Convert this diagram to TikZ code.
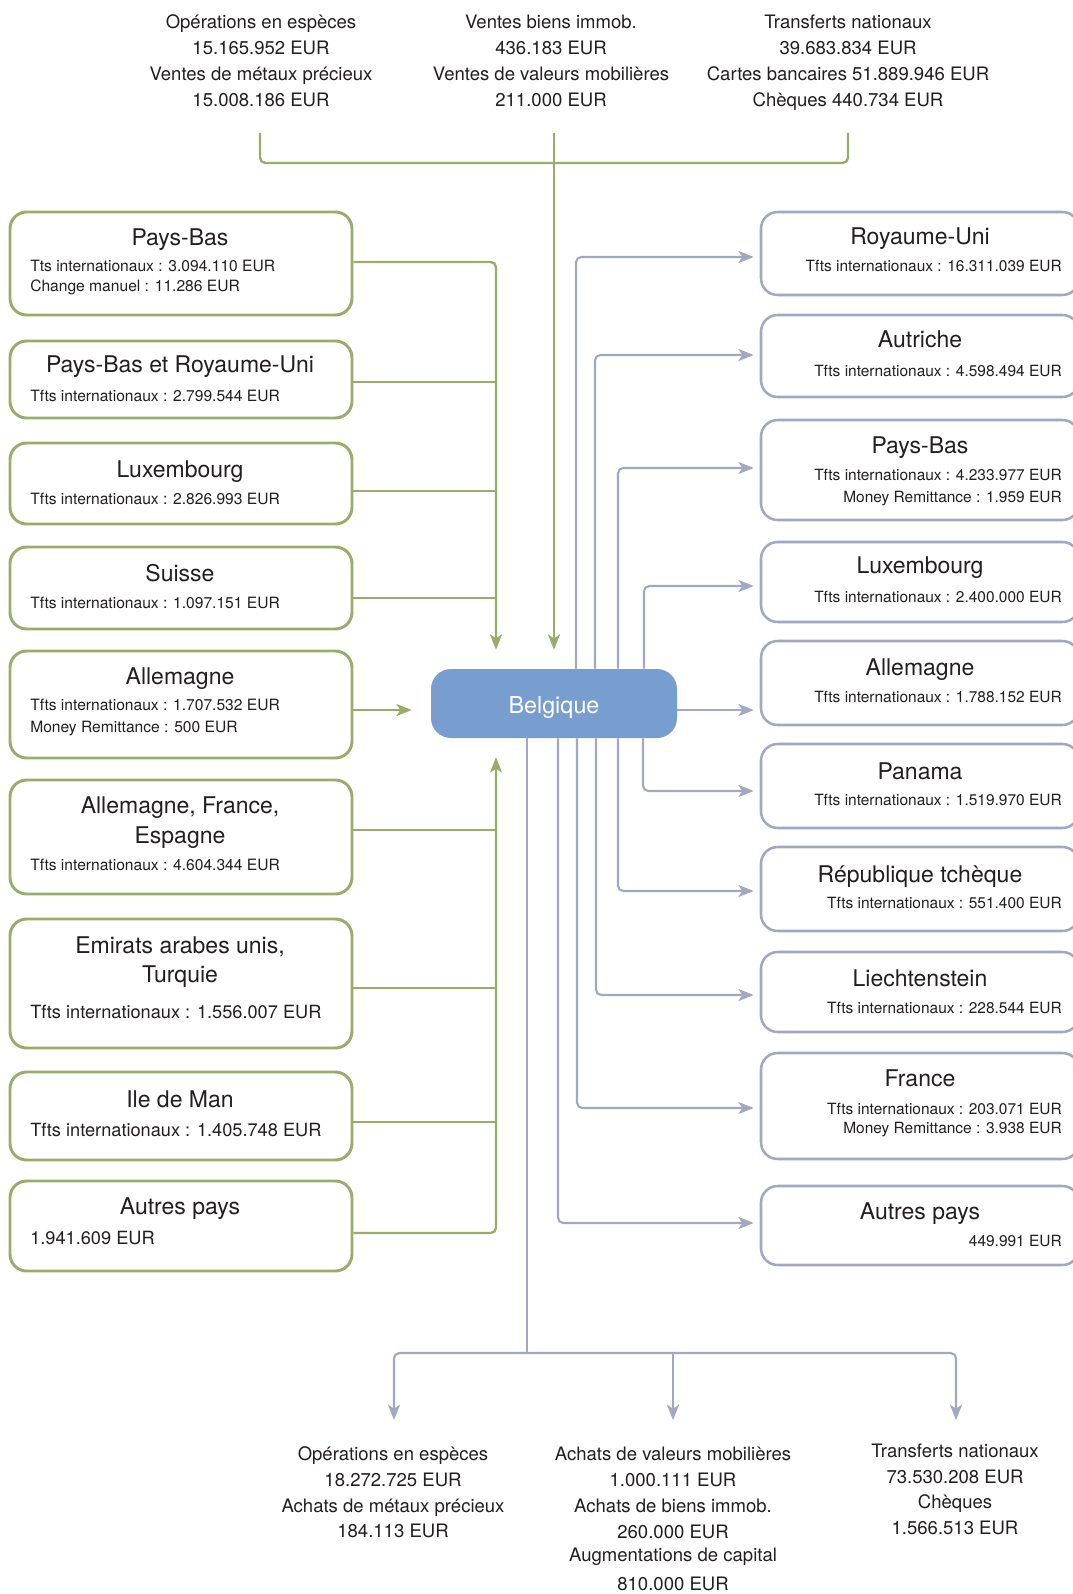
\documentclass[tikz,border=0pt]{standalone}
\usepackage{fontspec}
\setmainfont{TeX Gyre Heros}
\usetikzlibrary{arrows.meta,fit,calc}
\definecolor{gcol}{RGB}{155,171,107}
\definecolor{bcol}{RGB}{164,167,196}
\definecolor{belcol}{RGB}{120,158,207}
\definecolor{tcol}{RGB}{35,31,32}
\begin{document}
\begin{tikzpicture}[x=0.75pt,y=-0.75pt,
  every node/.style={inner sep=0pt, text=tcol},
  gbox/.style={draw=gcol, line width=2.2pt, rounded corners=12.5pt},
  bbox/.style={draw=bcol, line width=1.9pt, rounded corners=12.5pt},
  ttl/.style={anchor=base, font=\fontsize{17.25}{20}\selectfont},
  subl/.style={anchor=base west, font=\fontsize{11.7}{14}\selectfont},
  bigl/.style={anchor=base west, font=\fontsize{13.65}{16}\selectfont},
  subr/.style={anchor=base east, font=\fontsize{11.6}{14}\selectfont},
  lab/.style={anchor=base, font=\fontsize{13.9}{17}\selectfont},
  gline/.style={draw=gcol, line width=1.8pt, rounded corners=4pt},
  garrow/.style={gline, -{Stealth[length=11.5pt,width=9pt,inset=3pt]}, shorten >=14.25pt},
  bline/.style={draw=bcol, line width=1.6pt, rounded corners=4pt},
  barrow/.style={bline, -{Stealth[length=11.5pt,width=9pt,inset=3pt]}},
]
\fill[white] (0,0) rectangle (1073,1594);
\useasboundingbox (0,0) rectangle (1073,1594);

% ---------- top texts ----------
\node[lab] (tL1) at (261,29) {Opérations en espèces};
\node[lab] (tL2) at (261,55) {15.165.952 EUR};
\node[lab] (tL3) at (261,81) {Ventes de métaux précieux};
\node[lab] (tL4) at (261,107) {15.008.186 EUR};
\node[lab] (tM1) at (551,29) {Ventes biens immob.};
\node[lab] (tM2) at (551,55) {436.183 EUR};
\node[lab] (tM3) at (551,81) {Ventes de valeurs mobilières};
\node[lab] (tM4) at (551,107) {211.000 EUR};
\node[lab] (tR1) at (848,29) {Transferts nationaux};
\node[lab] (tR2) at (848,55) {39.683.834 EUR};
\node[lab] (tR3) at (848,81) {Cartes bancaires 51.889.946 EUR};
\node[lab] (tR4) at (848,107) {Chèques 440.734 EUR};

% ---------- Belgique ----------
\node[fill=belcol, rounded corners=15pt, fit={(431,669)(677,738)}] (bel) {};
\node[anchor=base, text=white, font=\fontsize{17.5}{20}\selectfont] (belt) at (554,713) {Belgique};

% ---------- left boxes ----------
\node[gbox, fit={(10,212)(352,315)}] (lPB) {};
\node[ttl] (lPBt) at (180,246) {Pays-Bas};
\node[subl] (lPBa) at (30,272) {Tts internationaux : 3.094.110 EUR};
\node[subl] (lPBb) at (30,292) {Change manuel : 11.286 EUR};

\node[gbox, fit={(10,341)(352,418)}] (lPR) {};
\node[ttl] (lPRt) at (180,373) {Pays-Bas et Royaume-Uni};
\node[subl] (lPRa) at (30,401) {Tfts internationaux : 2.799.544 EUR};

\node[gbox, fit={(10,443)(352,524)}] (lLU) {};
\node[ttl] (lLUt) at (180,477) {Luxembourg};
\node[subl] (lLUa) at (30,504) {Tfts internationaux : 2.826.993 EUR};

\node[gbox, fit={(10,547)(352,629)}] (lCH) {};
\node[ttl] (lCHt) at (180,581) {Suisse};
\node[subl] (lCHa) at (30,608) {Tfts internationaux : 1.097.151 EUR};

\node[gbox, fit={(10,651)(352,758)}] (lDE) {};
\node[ttl] (lDEt) at (180,684) {Allemagne};
\node[subl] (lDEa) at (30,710) {Tfts internationaux : 1.707.532 EUR};
\node[subl] (lDEb) at (30,732) {Money Remittance : 500 EUR};

\node[gbox, fit={(10,780)(352,894)}] (lFR) {};
\node[ttl] (lFRt) at (180,813) {Allemagne, France,};
\node[ttl] (lFRu) at (180,843) {Espagne};
\node[subl] (lFRa) at (30,870) {Tfts internationaux : 4.604.344 EUR};

\node[gbox, fit={(10,919)(352,1048)}] (lAE) {};
\node[ttl] (lAEt) at (180,953) {Emirats arabes unis,};
\node[ttl] (lAEu) at (180,982) {Turquie};
\node[bigl] (lAEa) at (30,1018) {Tfts internationaux : 1.556.007 EUR};

\node[gbox, fit={(10,1072)(352,1160)}] (lIM) {};
\node[ttl] (lIMt) at (180,1107) {Ile de Man};
\node[bigl] (lIMa) at (30,1136) {Tfts internationaux : 1.405.748 EUR};

\node[gbox, fit={(10,1181)(352,1271)}] (lOT) {};
\node[ttl] (lOTt) at (180,1214) {Autres pays};
\node[bigl] (lOTa) at (30,1244) {1.941.609 EUR};

% ---------- right boxes ----------
\node[bbox, fit={(761,212)(1079,295)}] (rRU) {};
\node[ttl] (rRUt) at (920,245) {Royaume-Uni};
\node[subr] (rRUa) at (1062,272) {Tfts internationaux : 16.311.039 EUR};

\node[bbox, fit={(761,315)(1079,397)}] (rAT) {};
\node[ttl] (rATt) at (920,348) {Autriche};
\node[subr] (rATa) at (1062,376) {Tfts internationaux : 4.598.494 EUR};

\node[bbox, fit={(761,420)(1079,520)}] (rPB) {};
\node[ttl] (rPBt) at (920,453) {Pays-Bas};
\node[subr] (rPBa) at (1062,480) {Tfts internationaux : 4.233.977 EUR};
\node[subr] (rPBb) at (1062,502) {Money Remittance : 1.959 EUR};

\node[bbox, fit={(761,542)(1079,622)}] (rLU) {};
\node[ttl] (rLUt) at (920,573) {Luxembourg};
\node[subr] (rLUa) at (1062,602) {Tfts internationaux : 2.400.000 EUR};

\node[bbox, fit={(761,641)(1079,725)}] (rDE) {};
\node[ttl] (rDEt) at (920,675) {Allemagne};
\node[subr] (rDEa) at (1062,702) {Tfts internationaux : 1.788.152 EUR};

\node[bbox, fit={(761,744)(1079,828)}] (rPA) {};
\node[ttl] (rPAt) at (920,779) {Panama};
\node[subr] (rPAa) at (1062,805) {Tfts internationaux : 1.519.970 EUR};

\node[bbox, fit={(761,847)(1079,931)}] (rCZ) {};
\node[ttl] (rCZt) at (920,882) {République tchèque};
\node[subr] (rCZa) at (1062,908) {Tfts internationaux : 551.400 EUR};

\node[bbox, fit={(761,952)(1079,1032)}] (rLI) {};
\node[ttl] (rLIt) at (920,986) {Liechtenstein};
\node[subr] (rLIa) at (1062,1013) {Tfts internationaux : 228.544 EUR};

\node[bbox, fit={(761,1053)(1079,1159)}] (rFR) {};
\node[ttl] (rFRt) at (920,1086) {France};
\node[subr] (rFRa) at (1062,1114) {Tfts internationaux : 203.071 EUR};
\node[subr] (rFRb) at (1062,1133) {Money Remittance : 3.938 EUR};

\node[bbox, fit={(761,1186)(1079,1265)}] (rOT) {};
\node[ttl] (rOTt) at (920,1219) {Autres pays};
\node[subr] (rOTa) at (1062,1246) {449.991 EUR};

% ---------- bottom texts ----------
\node[lab] (bL1) at (393,1460) {Opérations en espèces};
\node[lab] (bL2) at (393,1486) {18.272.725 EUR};
\node[lab] (bL3) at (393,1512) {Achats de métaux précieux};
\node[lab] (bL4) at (393,1537) {184.113 EUR};
\node[lab] (bM1) at (673,1460) {Achats de valeurs mobilières};
\node[lab] (bM2) at (673,1486) {1.000.111 EUR};
\node[lab] (bM3) at (673,1512) {Achats de biens immob.};
\node[lab] (bM4) at (673,1538) {260.000 EUR};
\node[lab] (bM5) at (673,1561) {Augmentations de capital};
\node[lab] (bM6) at (673,1590) {810.000 EUR};
\node[lab] (bR1) at (955,1457) {Transferts nationaux};
\node[lab] (bR2) at (955,1483) {73.530.208 EUR};
\node[lab] (bR3) at (955,1508) {Chèques};
\node[lab] (bR4) at (955,1534) {1.566.513 EUR};

% ---------- green connectors ----------
\coordinate (tLc) at (260,133);
\coordinate (tRc) at (848,133);
\coordinate (tCc) at (554,133);
\draw[gline] (tLc) -- ++(0,30) -| (tRc);
\draw[garrow] (tCc) -- (bel.north);

\draw[garrow] (lPB.east |- 0,262) -| (bel.north -| 496,0);
\coordinate (gj2) at (496,382);
\coordinate (gj3) at (496,491);
\coordinate (gj4) at (496,598);
\draw[gline] (lPR.east |- gj2) -- (gj2);
\draw[gline] (lLU.east |- gj3) -- (gj3);
\draw[gline] (lCH.east |- gj4) -- (gj4);

\draw[garrow] (lDE.east |- 0,710) -- (bel.west |- 0,710);

\draw[garrow] (lOT.east |- 0,1233) -| (bel.south -| 496,0);
\coordinate (gj6) at (496,830);
\coordinate (gj7) at (496,988);
\coordinate (gj8) at (496,1122);
\draw[gline] (lFR.east |- gj6) -- (gj6);
\draw[gline] (lAE.east |- gj7) -- (gj7);
\draw[gline] (lIM.east |- gj8) -- (gj8);

% ---------- blue connectors ----------
\begin{scope}[shorten >=4.5pt]
\draw[barrow] (bel.north -| 576,0) |- (rRU.west |- 0,257);
\draw[barrow] (bel.north -| 595,0) |- (rAT.west |- 0,355);
\draw[barrow] (bel.north -| 618,0) |- (rPB.west |- 0,468);
\draw[barrow] (bel.north -| 644,0) |- (rLU.west |- 0,586);
\draw[barrow] (bel.east |- 0,710) -- (rDE.west |- 0,710);
\draw[barrow] (bel.south -| 643,0) |- (rPA.west |- 0,791);
\draw[barrow] (bel.south -| 618,0) |- (rCZ.west |- 0,891);
\draw[barrow] (bel.south -| 596,0) |- (rLI.west |- 0,995);
\draw[barrow] (bel.south -| 577,0) |- (rFR.west |- 0,1108);
\draw[barrow] (bel.south -| 558,0) |- (rOT.west |- 0,1223);
\end{scope}

\coordinate (bj) at (527,1353);
\coordinate (bLt) at (394,1420);
\coordinate (bMt) at (673,1420);
\coordinate (bRt) at (956,1420);
\draw[bline] (bel.south -| bj) -- (bj);
\draw[barrow] (bj) -| (bLt);
\draw[barrow] (bj) -| (bRt);
\draw[barrow] (bMt |- bj) -- (bMt);
\end{tikzpicture}
\end{document}
